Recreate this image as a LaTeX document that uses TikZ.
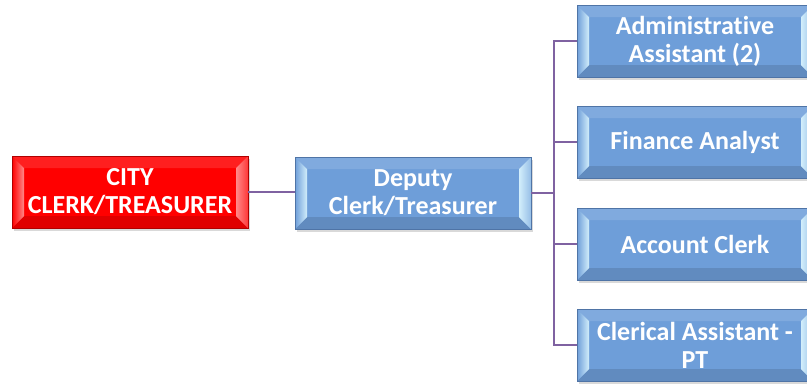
\documentclass[tikz,border=0pt]{standalone}
\usepackage{fontspec}
\setmainfont[RawFeature=-liga]{Carlito}
\usetikzlibrary{shadows}
\definecolor{bluebase}{HTML}{6E9ED9}
\definecolor{bluelite}{HTML}{D2EEFB}
\definecolor{blueedge}{HTML}{4F74A6}
\definecolor{redbase}{HTML}{FF0000}
\definecolor{redlite}{HTML}{FF8A8A}
\definecolor{rededge}{HTML}{B00000}
\definecolor{linkc}{HTML}{7F62A1}
\tikzset{
  box/.style={minimum width=236pt, minimum height=72pt, inner sep=0pt, align=center,
    font=\bfseries\fontsize{26}{28}\selectfont, text=white, line width=0.8pt,
    drop shadow={shadow xshift=2pt, shadow yshift=-3pt, opacity=0.3}},
  bevelbox/.style n args={3}{box, fill=#1, draw=#3,
    path picture={
      \path (path picture bounding box.north west) coordinate (pa)
            (path picture bounding box.north east) coordinate (pb)
            (path picture bounding box.south east) coordinate (pc)
            (path picture bounding box.south west) coordinate (pd);
      \path ([xshift=12pt,yshift=-12pt]pa) coordinate (qa)
            ([xshift=-12pt,yshift=-12pt]pb) coordinate (qb)
            ([xshift=-12pt,yshift=12pt]pc) coordinate (qc)
            ([xshift=12pt,yshift=12pt]pd) coordinate (qd);
      \fill[#1!88!white] (pa) -- (pb) -- (qb) -- (qa) -- cycle;
      \fill[#1!88!black] (pd) -- (pc) -- (qc) -- (qd) -- cycle;
      \shade[left color=#1, right color=#2] (pa) -- (qa) -- (qd) -- (pd) -- cycle;
      \shade[left color=#2, right color=#1!60!#2] (pb) -- (qb) -- (qc) -- (pc) -- cycle;
    }},
  bluebox/.style={bevelbox={bluebase}{bluelite}{blueedge}},
  redbox/.style={bevelbox={redbase}{redlite}{rededge}},
  link/.style={draw=linkc, line width=1.4pt}
}
\begin{document}
\begin{tikzpicture}[x=1pt, y=-1pt]
\useasboundingbox (0,0) rectangle (807,384);
\clip (0,0) rectangle (807,384);
\node[redbox] (city) at (130,192) {CITY\\CLERK/TREASURER};
\node[bluebox] (deputy) at (413,193) {Deputy\\Clerk/Treasurer};
\node[bluebox] (admin) at (695,41) {Administrative\\Assistant (2)};
\node[bluebox] (finance) at (695,142) {Finance Analyst};
\node[bluebox] (account) at (695,244) {Account Clerk};
\node[bluebox] (clerical) at (695,345) {Clerical Assistant -\\PT};
\coordinate (bus) at (554,193);
\draw[link] (city.east) -- (deputy.west |- city.east);
\draw[link] (deputy.east) -- (bus);
\draw[link] (admin.west) -| (bus);
\draw[link] (clerical.west) -| (bus);
\draw[link] (finance.west) -- (finance.west -| bus);
\draw[link] (account.west) -- (account.west -| bus);
\end{tikzpicture}
\end{document}
